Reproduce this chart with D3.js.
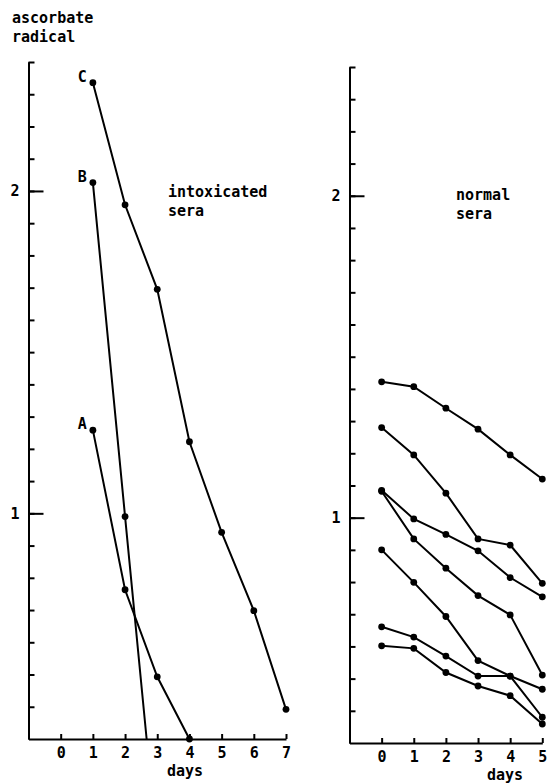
<!DOCTYPE html>
<html>
<head>
<meta charset="utf-8">
<script src="https://cdn.jsdelivr.net/npm/d3@7"></script>
<style>
  body { margin: 0; background: #fff; }
  svg { display: block; }
  text { font-family: "DejaVu Sans Mono", monospace; font-weight: bold; fill: #000; }
</style>
</head>
<body>
<svg width="556" height="783"></svg>
<script>
// intoxicated sera (days 1..7)
const seriesA = [[1, 1.258], [2, 0.763], [3, 0.493], [4, 0.30]];
const seriesB = [[1, 2.026], [2, 0.99]];
const seriesBEnd = [2.67, 0.30];        // line runs on to the axis, no dot
const seriesC = [[1, 2.336], [2, 1.957], [3, 1.695], [4, 1.222], [5, 0.941], [6, 0.698], [7, 0.392]];

// normal sera (days 0..5)
const normalDays = [0, 1, 2, 3, 4, 5];
const normal1 = [1.422, 1.407, 1.340, 1.275, 1.195, 1.120];
const normal2 = [1.280, 1.195, 1.076, 0.934, 0.915, 0.796];
const normal3 = [1.085, 0.996, 0.948, 0.897, 0.814, 0.754];
const normal4 = [1.082, 0.934, 0.843, 0.758, 0.698, 0.511];
const normal5 = [0.900, 0.799, 0.693, 0.556, 0.508, 0.467];
const normal6 = [0.661, 0.629, 0.570, 0.508, 0.508, 0.380];
const normal7 = [0.602, 0.594, 0.519, 0.477, 0.447, 0.359];

const leftDays = [0, 1, 2, 3, 4, 5, 6, 7];
const minorTicks = d3.range(4, 25).map(d => d / 10);
const majorTicks = [1, 2];

const svg = d3.select("svg");

function panel(xr, yr, xdom, days) {
    let x = d3.scaleLinear().domain(xdom).range(xr);
    let y = d3.scaleLinear().domain([0.3, 2.4]).range(yr);
    const g = svg.append("g");

    // y axis: small ticks every 0.1 pointing inwards
    g.append("g")
        .attr("transform", "translate(" + xr[0] + ",0)")
        .call(d3.axisLeft(y).tickValues(minorTicks).tickSize(-6).tickSizeOuter(0).tickFormat(""));
    g.append("g")
        .attr("class", "major")
        .attr("transform", "translate(" + xr[0] + ",0)")
        .call(d3.axisLeft(y).tickValues(majorTicks).tickSize(-15).tickSizeOuter(0)
            .tickPadding(9).tickFormat(d3.format("d")));

    // x axis
    g.append("g")
        .attr("transform", "translate(0," + yr[0] + ")")
        .call(d3.axisBottom(x).tickValues(days).tickSize(-5).tickSizeOuter(0)
            .tickPadding(8).tickFormat(d3.format("d")));

    g.selectAll(".domain, .tick line").attr("stroke", "#000").attr("stroke-width", 2);
    g.selectAll(".tick text").attr("font-family", "DejaVu Sans Mono").attr("font-size", 15);
    return { g, x, y };
}

function drawLine(p, pts, dots) {
    const line = d3.line().x(d => p.x(d[0])).y(d => p.y(d[1]));
    p.g.append("path")
        .attr("d", line(pts))
        .attr("fill", "none")
        .attr("stroke", "#000")
        .attr("stroke-width", 2);
    p.g.selectAll(null)
        .data(dots)
        .enter()
        .append("circle")
        .attr("cx", d => p.x(d[0]))
        .attr("cy", d => p.y(d[1]))
        .attr("r", 3.4)
        .attr("fill", "#000");
}

// left panel
const L = panel([28.5, 286], [739, 62], [-1, 7], leftDays);
drawLine(L, seriesC, seriesC);
drawLine(L, seriesB.concat([seriesBEnd]), seriesB);
drawLine(L, seriesA, seriesA);

[["C", seriesC[0]], ["B", seriesB[0]], ["A", seriesA[0]]].forEach(function (s) {
    L.g.append("text")
        .attr("x", L.x(s[1][0]) - 6)
        .attr("y", L.y(s[1][1]) - 1)
        .attr("text-anchor", "end")
        .attr("font-size", 15)
        .text(s[0]);
});

// right panel
const R = panel([349.5, 542.3], [743, 67], [-1, 5], normalDays);
[normal1, normal2, normal3, normal4, normal5, normal6, normal7].forEach(function (vals) {
    const pts = normalDays.map((d, i) => [d, vals[i]]);
    drawLine(R, pts, pts);
});

// labels
function label(x, y, lines) {
    const t = svg.append("text").attr("x", x).attr("y", y).attr("font-size", 15);
    lines.forEach(function (s, i) {
        t.append("tspan").attr("x", x).attr("dy", i ? 19 : 0).text(s);
    });
}
label(12, 23, ["ascorbate", "radical"]);
label(168, 197, ["intoxicated", "sera"]);
label(456, 200, ["normal", "sera"]);

svg.append("text").attr("x", 185).attr("y", 776).attr("text-anchor", "middle")
    .attr("font-size", 15).text("days");
svg.append("text").attr("x", 505).attr("y", 780).attr("text-anchor", "middle")
    .attr("font-size", 15).text("days");
</script>
</body>
</html>
